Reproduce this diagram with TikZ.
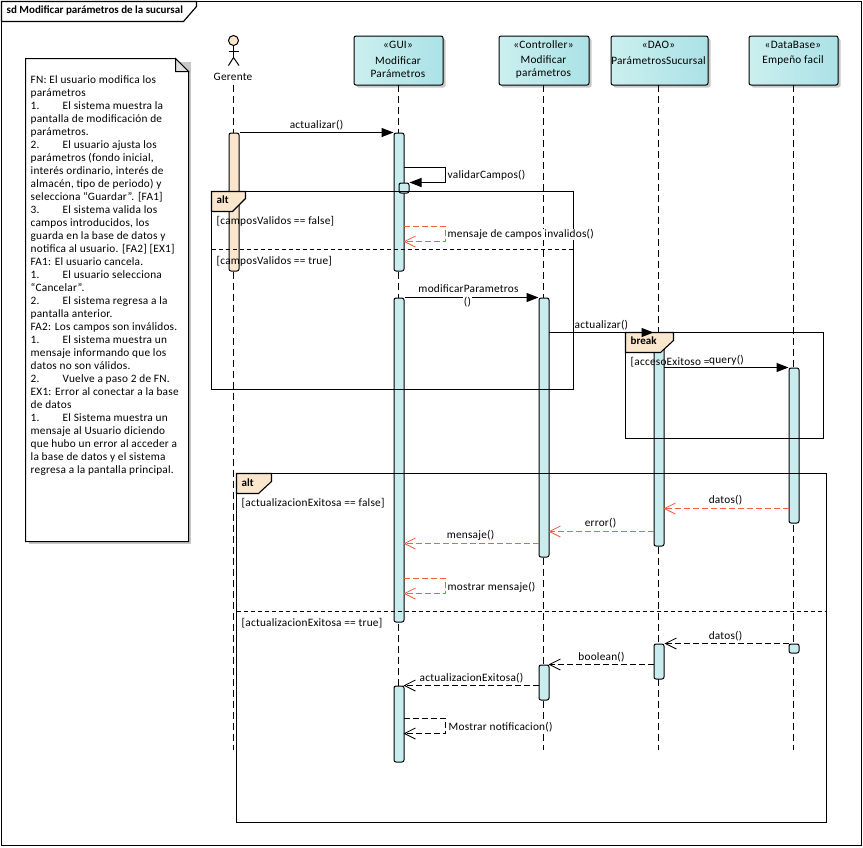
\documentclass[tikz,border=0pt]{standalone}
\usepackage{fontspec}
\setmainfont[LetterSpace=2]{Carlito}
\newfontfamily\boldcar[LetterSpace=0]{Carlito Bold}
\usetikzlibrary{arrows.meta,shapes.misc}
\definecolor{boxL}{HTML}{CBEFEF}
\definecolor{boxR}{HTML}{ABE2E6}
\definecolor{actC}{HTML}{C9EDEE}
\definecolor{tan}{HTML}{F9E6CC}
\definecolor{rep}{HTML}{FA5F46}
\definecolor{shad}{HTML}{C8C8C8}
\newcommand{\tb}{\makebox[32pt][l]}
\tikzset{
  every node/.style={font=\fontsize{11.3}{13}\selectfont, text=black},
  head/.style={draw=black, line width=1pt, rounded corners=2pt, left color=boxL, right color=boxR, minimum height=49pt, anchor=north west, inner sep=0pt},
  headshadow/.style={fill=shad, draw=none, rounded corners=2pt},
  life/.style={line width=1pt, dash pattern=on 7pt off 4pt},
  actbar/.style={draw=black, line width=1pt, fill=actC, rounded corners=2pt, inner sep=0pt, anchor=north west, minimum width=10pt},
  actorbar/.style={actbar, fill=tan},
  lab/.style={inner sep=0.5pt, fill=white, anchor=mid, yshift=-1pt},
  labl/.style={inner sep=0.5pt, fill=white, anchor=mid west, yshift=-1pt},
  guard/.style={inner sep=0pt, anchor=mid west, yshift=-1pt},
  sync/.style={line width=1pt, -{Triangle[length=12pt,width=9pt]}},
  reply/.style={line width=1pt, dash pattern=on 6pt off 3pt, -{Straight Barb[length=11pt,width=11pt,line width=.8pt]}},
  err/.style={line width=1.2pt, dash pattern=on 6pt off 3pt, draw=rep, -{Straight Barb[length=11pt,width=11pt,line width=.8pt,color=rep]}},
  frag/.style={line width=1.1pt, draw=black},
  tab/.style={line width=1.1pt, draw=black, fill=tan},
  divider/.style={line width=1pt, dash pattern=on 4pt off 3pt},
  tabtext/.style={inner sep=0pt, anchor=mid west, font=\fontsize{11}{13}\boldcar, yshift=-0.5pt},
}
\begin{document}
\begin{tikzpicture}[x=1pt,y=-1pt]
\useasboundingbox (0,0) rectangle (863,847);
\fill[white] (0,0) rectangle (863,847);
\begin{scope}[shift={(0.5,0.5)}]
% outer frame
\draw[line width=1.2pt] (1,1) rectangle (861,845);
\draw[line width=1.2pt,fill=white] (1,1) -- (196,1) -- (196,6) -- (183,21) -- (1,21) -- cycle;
\node[tabtext,yshift=0.5pt] (title) at (6,10.5) {sd Modificar parámetros de la sucursal};
% note
\fill[shad] (28,61) rectangle (190,543);
\draw[line width=1pt,fill=white] (25,58) -- (175,58) -- (188,71) -- (188,541) -- (25,541) -- cycle;
\draw[line width=1pt,fill=black!12] (175,58) -- (175,71) -- (188,71) -- cycle;
\node[inner sep=0pt,anchor=north west,align=left] (note) at (30,74.5) {FN: El usuario modifica los\\
parámetros\\
\tb{1.}El sistema muestra la\\
pantalla de modificación de\\
parámetros.\\
\tb{2.}El usuario ajusta los\\
parámetros (fondo inicial,\\
interés ordinario, interés de\\
almacén, tipo de periodo) y\\
selecciona “Guardar”. [FA1]\\
\tb{3.}El sistema valida los\\
campos introducidos, los\\
guarda en la base de datos y\\
notifica al usuario. [FA2] [EX1]\\
FA1: El usuario cancela.\\
\tb{1.}El usuario selecciona\\
“Cancelar”.\\
\tb{2.}El sistema regresa a la\\
pantalla anterior.\\
FA2: Los campos son inválidos.\\
\tb{1.}El sistema muestra un\\
mensaje informando que los\\
datos no son válidos.\\
\tb{2.}Vuelve a paso 2 de FN.\\
EX1: Error al conectar a la base\\
de datos\\
\tb{1.}El Sistema muestra un\\
mensaje al Usuario diciendo\\
que hubo un error al acceder a\\
la base de datos y el sistema\\
regresa a la pantalla principal.};
% header shadows
\fill[headshadow] (356,38) rectangle +(89,49);
\fill[headshadow] (501,38) rectangle +(90,49);
\fill[headshadow] (613,38) rectangle +(97,49);
\fill[headshadow] (751,38) rectangle +(89,49);
% headers
\node[head,minimum width=89pt] (gui) at (353,35) {};
\node[head,minimum width=90pt] (ctl) at (498,35) {};
\node[head,minimum width=97pt] (dao) at (610,35) {};
\node[head,minimum width=89pt] (db) at (748,35) {};
\node[inner sep=0pt] (guiS) at (397.5,44) {«GUI»};
\node[inner sep=0pt,align=center] (guiN) at (397.5,66.5) {Modificar\\Parámetros};
\node[inner sep=0pt] (ctlS) at (543,44) {«Controller»};
\node[inner sep=0pt,align=center] (ctlN) at (543,66.5) {Modificar\\parámetros};
\node[inner sep=0pt] (daoS) at (658,44) {«DAO»};
\node[inner sep=0pt] (daoN) at (658,60) {ParámetrosSucursal};
\node[inner sep=0pt] (dbS) at (792.5,44) {«DataBase»};
\node[inner sep=0pt] (dbN) at (792.5,60) {Empeño facil};
% actor
\node[circle,draw=black,line width=1pt,fill=tan,minimum size=10pt,inner sep=0pt] (actorHead) at (233,40) {};
\coordinate (actorHip) at (233,57);
\draw[line width=1pt] (actorHead.south) -- (actorHip);
\draw[line width=1pt] (228,50.5) -- (238.5,50.5);
\draw[line width=1pt] (228,65) -- (actorHip) -- (238.5,65);
\node[inner sep=0pt] (ger) at (232.5,76.5) {Gerente};
% lifelines
\coordinate (gerEnd) at (233,749);
\coordinate (guiEnd) at (398,749);
\coordinate (ctlEnd) at (543,749);
\coordinate (daoEnd) at (658,749);
\coordinate (dbEnd) at (793,749);
\draw[life] (233,84) -- (gerEnd);
\draw[life] (398,84) -- (guiEnd);
\draw[life] (543,84) -- (ctlEnd);
\draw[life] (658,84) -- (daoEnd);
\draw[life] (793,84) -- (dbEnd);
% activations
\node[actorbar,minimum height=138pt] (aGer) at (228,132) {};
\node[actbar,minimum height=138pt] (aGui1) at (393,132) {};
\node[actbar,minimum height=10pt] (aGuiS) at (398,182) {};
\node[actbar,minimum height=324pt] (aGui2) at (393,297) {};
\node[actbar,minimum height=76pt] (aGui3) at (393,685) {};
\node[actbar,minimum height=259pt] (aCtl1) at (538,297) {};
\node[actbar,minimum height=35pt] (aCtl2) at (538,664) {};
\node[actbar,minimum height=213pt] (aDao1) at (653,332) {};
\node[actbar,minimum height=35pt] (aDao2) at (653,643) {};
\node[actbar,minimum height=155pt] (aDb1) at (788,367) {};
\node[actbar,minimum height=9pt] (aDb2) at (788,643) {};
% fragments
\draw[frag] (211,191) rectangle (573,389);
\draw[divider] (211,249) -- (573,249);
\draw[tab] (211,191) -- (245,191) -- (245,198) -- (232,211) -- (211,211) -- cycle;
\node[tabtext] (alt1) at (216,200.5) {alt};
\node[guard] (g1) at (216,220.5) {[camposValidos == false]};
\node[guard] (g2) at (216,260.5) {[camposValidos == true]};
\draw[frag] (625,332) rectangle (823,438);
\draw[tab] (625,332) -- (673,332) -- (673,340) -- (660,352) -- (625,352) -- cycle;
\node[tabtext] (brk) at (630,341.5) {break};
\node[guard] (g3) at (630,361.5) {[accesoExitoso =};
\draw[frag] (236,473) rectangle (826,822);
\draw[divider] (236,611) -- (826,611);
\draw[tab] (236,473) -- (271,473) -- (271,481) -- (258,493) -- (236,493) -- cycle;
\node[tabtext] (alt2) at (241,483) {alt};
\node[guard] (g4) at (241,502.5) {[actualizacionExitosa == false]};
\node[guard] (g5) at (241,622.5) {[actualizacionExitosa == true]};
% message end points
\coordinate (s1a) at (403,167); \coordinate (s1b) at (445,167); \coordinate (s1c) at (445,182);
\coordinate (s2a) at (403,226); \coordinate (s2b) at (445,226); \coordinate (s2c) at (445,241); \coordinate (s2d) at (403,241);
\coordinate (s3a) at (403,578); \coordinate (s3b) at (445,578); \coordinate (s3c) at (445,593); \coordinate (s3d) at (403,593);
\coordinate (s4a) at (403,718); \coordinate (s4b) at (445,718); \coordinate (s4c) at (445,733); \coordinate (s4d) at (403,733);
\coordinate (ctlA) at (548,332);
\coordinate (daoQ) at (663,367);
\coordinate (dbD) at (788,508); \coordinate (daoD) at (663,508);
\coordinate (daoE) at (653,531); \coordinate (ctlE) at (548,531);
\coordinate (ctlM) at (538,543); \coordinate (guiM) at (403,543);
\coordinate (daoB) at (653,664); \coordinate (ctlB) at (548,664);
\coordinate (ctlX) at (538,685); \coordinate (guiX) at (403,685);
% labels
\node[lab] (l1) at (316,125) {actualizar()};
\node[labl] (l2) at (446.5,175) {validarCampos()};
\node[labl] (l3) at (446.5,234) {mensaje de campos invalidos()};
\node[lab] (l4) at (468,289) {modificarParametros};
\node[labl] (l5) at (573.5,324.5) {actualizar()};
\node[lab,fill=none] (l6) at (726,360) {query()};
\node[lab] (l7) at (725,500) {datos()};
\node[lab] (l8) at (600,523) {error()};
\node[lab] (l9) at (470,535) {mensaje()};
\node[labl] (l10) at (446.5,587) {mostrar mensaje()};
\node[lab] (l11) at (725,635.5) {datos()};
\node[lab] (l12) at (601,657) {boolean()};
\node[lab] (l13) at (471,677.5) {actualizacionExitosa()};
\node[labl] (l14) at (447.5,727) {Mostrar notificacion()};
% messages
\draw[sync] (aGer.north east) -- (aGui1.north west);
\draw[sync] (s1a) -- (s1b) -- (s1c) -- (aGuiS.north east);
\draw[err] (s2a) -- (s2b) -- (s2c) -- (s2d);
\draw[sync] (aGui2.north east) -- (aCtl1.north west);
\node[lab] (l4b) at (467,302) {()};
\draw[sync] (ctlA) -- (aDao1.north west);
\draw[sync] (daoQ) -- (aDb1.north west);
\draw[err] (dbD) -- (daoD);
\draw[err] (daoE) -- (ctlE);
\draw[err] (ctlM) -- (guiM);
\draw[err] (s3a) -- (s3b) -- (s3c) -- (s3d);
\draw[reply] (aDb2.north west) -- (aDao2.north east);
\draw[reply] (daoB) -- (ctlB);
\draw[reply] (ctlX) -- (guiX);
\draw[reply] (s4a) -- (s4b) -- (s4c) -- (s4d);
\end{scope}
\end{tikzpicture}
\end{document}
